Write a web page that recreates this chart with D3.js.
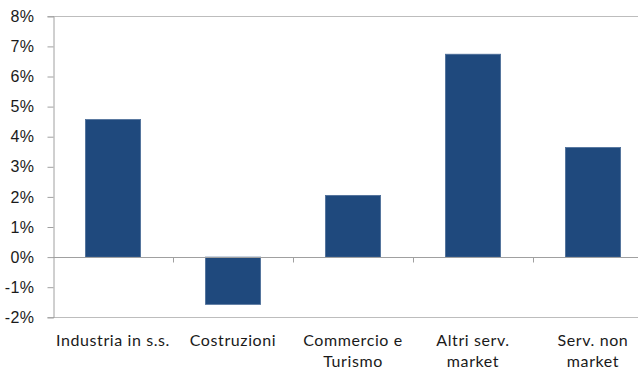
<!DOCTYPE html>
<html>
<head>
<meta charset="utf-8">
<script src="https://cdn.jsdelivr.net/npm/d3@7"></script>
<style>
  html, body { margin: 0; padding: 0; background: #fff; }
  svg { display: block; font-family: Lato, "Open Sans", sans-serif; }
</style>
</head>
<body>
<svg id="chart" width="638" height="368"></svg>
<script>
// Variazione percentuale per settore
const categories = [
  ["Industria in s.s."],
  ["Costruzioni"],
  ["Commercio e", "Turismo"],
  ["Altri serv.", "market"],
  ["Serv. non", "market"]
];
const values = [4.57, -1.57, 2.05, 6.74, 3.64];
const yTicks = [-2, -1, 0, 1, 2, 3, 4, 5, 6, 7, 8];
const yTickLabels = ["-2%", "-1%", "0%", "1%", "2%", "3%", "4%", "5%", "6%", "7%", "8%"];

const svg = d3.select("#chart");
const plotLeft = 53, plotRight = 653, plotTop = 16.3, plotBottom = 317.3;

const x = d3.scaleBand()
  .domain(d3.range(categories.length))
  .range([plotLeft, plotRight])
  .paddingInner(0.54)
  .paddingOuter(0.27);

const y = d3.scaleLinear().domain([-2, 8]).range([plotBottom, plotTop]);

// Linee orizzontali di bordo (massimo e minimo)
svg.selectAll("line.edge")
  .data([8, -2])
  .join("line")
  .attr("class", "edge")
  .attr("x1", plotLeft).attr("x2", 638)
  .attr("y1", d => Math.round(y(d)) + 0.5)
  .attr("y2", d => Math.round(y(d)) + 0.5)
  .attr("stroke", "#bdbdbd")
  .attr("stroke-width", 1);

// Barre
svg.selectAll("rect.bar")
  .data(values)
  .join("rect")
  .attr("class", "bar")
  .attr("x", (d, i) => x(i))
  .attr("width", x.bandwidth())
  .attr("y", d => y(Math.max(0, d)))
  .attr("height", d => Math.abs(y(d) - y(0)))
  .attr("fill", "#1f497d")
  .attr("stroke", "#4d6e99")
  .attr("stroke-width", 0.8);

// Asse Y
const yAxis = d3.axisLeft(y)
  .tickValues(yTicks)
  .tickFormat((d, i) => yTickLabels[i])
  .tickSize(6)
  .tickPadding(13);

const gy = svg.append("g")
  .attr("transform", `translate(${plotLeft + 0.5},0)`)
  .call(yAxis);
gy.select(".domain").attr("stroke", "#a0a0a0");
gy.selectAll(".tick line").attr("stroke", "#a0a0a0");
gy.selectAll(".tick text")
  .attr("fill", "#1a1a1a")
  .attr("font-size", 16)
  .attr("letter-spacing", 0.4);

// Asse delle categorie sullo zero
const step = x.step();
const catEdges = d3.range(1, categories.length + 1).map(i => plotLeft + i * step);
const zeroY = Math.round(y(0)) + 0.5;
svg.append("line")
  .attr("x1", plotLeft).attr("x2", 638)
  .attr("y1", zeroY).attr("y2", zeroY)
  .attr("stroke", "#a0a0a0");
svg.selectAll("line.cattick")
  .data(catEdges)
  .join("line")
  .attr("class", "cattick")
  .attr("x1", d => Math.round(d) + 0.5).attr("x2", d => Math.round(d) + 0.5)
  .attr("y1", zeroY).attr("y2", zeroY + 5)
  .attr("stroke", "#a0a0a0");

// Etichette delle categorie
const labels = svg.selectAll("text.cat")
  .data(categories)
  .join("text")
  .attr("class", "cat")
  .attr("x", (d, i) => x(i) + x.bandwidth() / 2)
  .attr("y", 345.5)
  .attr("text-anchor", "middle")
  .attr("fill", "#1a1a1a")
  .attr("font-size", 16)
  .attr("letter-spacing", 0.6);
labels.selectAll("tspan")
  .data(d => d)
  .join("tspan")
  .attr("x", function() { return this.parentNode.getAttribute("x"); })
  .attr("dy", (d, i) => i === 0 ? 0 : 21)
  .text(d => d);
</script>
</body>
</html>
